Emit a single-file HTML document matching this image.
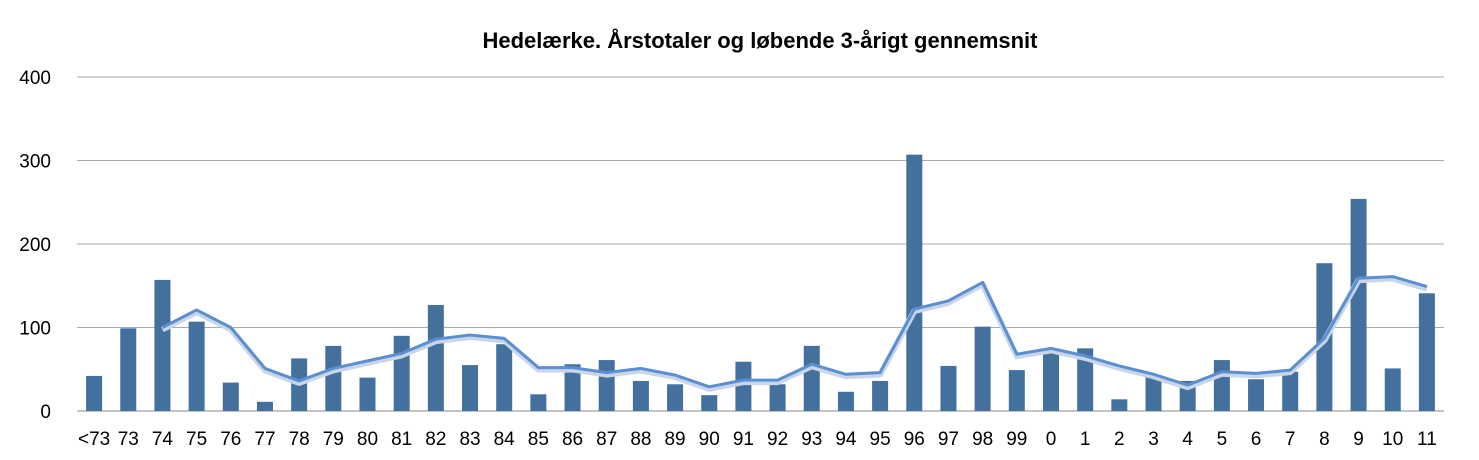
<!DOCTYPE html>
<html><head><meta charset="utf-8"><style>
html,body{margin:0;padding:0;background:#fff;}
svg text{font-family:"Liberation Sans",Arial,sans-serif;fill:#000;}
</style></head><body>
<svg id="chart" width="1479" height="455" xmlns="http://www.w3.org/2000/svg">
<text x="760" y="48" text-anchor="middle" font-size="22" font-weight="bold">Hedelærke. Årstotaler og løbende 3-årigt gennemsnit</text>
<g id="grid"></g><g id="bars"></g><g id="line"></g><g id="xlabels"></g>
</svg>
<script>
const categories=["<73","73","74","75","76","77","78","79","80","81","82","83","84","85","86","87","88","89","90","91","92","93","94","95","96","97","98","99","0","1","2","3","4","5","6","7","8","9","10","11"];
const totals=[42,99,157,107,34,11,63,78,40,90,127,55,80,20,56,61,36,32,19,59,32,78,23,36,307,54,101,49,74,75,14,42,36,61,38,47,177,254,51,141];
const avg3=[null,null,100,121,100,51,36,51,60,69,86,91,87,52,52,46,51,43,29,37,37,56,44,46,122,132,154,68,75,66,54,44,31,47,45,49,87,159,161,149];
const yTicks=[0,100,200,300,400];
const NS="http://www.w3.org/2000/svg";
const x0=77,x1=1444,y0=411,y1=77,yMax=400;
const bw=(x1-x0)/categories.length;
const xc=i=>x0+bw*(i+0.5);
const y=v=>y0-(v/yMax)*(y0-y1);
function mk(t,a,p){const e=document.createElementNS(NS,t);for(const k in a)e.setAttribute(k,a[k]);p.appendChild(e);return e;}
const grid=document.getElementById('grid');
yTicks.forEach(v=>{
  const l=mk('line',{x1:x0,x2:x1,y1:y(v),y2:y(v),stroke:v===0?'#888':'#aaa','stroke-width':1},grid);
  
  
  const t=mk('text',{x:51,y:y(v)+7,'text-anchor':'end','font-size':19},grid);
  t.textContent=v;
  
  
});
const bars=document.getElementById('bars');
totals.forEach((v,i)=>{
  const r=mk('rect',{x:xc(i)-8,y:y(v),width:16,height:y0-y(v),fill:'#44709e'},bars);
  
  
});
const pts=[];avg3.forEach((v,i)=>{if(v!==null)pts.push(xc(i)+','+y(v));});
const sh=mk('polyline',{points:pts.join(' '),fill:'none',stroke:'#c9d6ea','stroke-width':6,transform:'translate(0,2)','stroke-linejoin':'round'},document.getElementById('line'));


const pl=mk('polyline',{points:pts.join(' '),fill:'none',stroke:'#5b8fd0','stroke-width':3,'stroke-linejoin':'round'},document.getElementById('line'));


const xl=document.getElementById('xlabels');
categories.forEach((c,i)=>{
  const t=mk('text',{x:xc(i),y:445,'text-anchor':'middle','font-size':19},xl);
  t.textContent=c;
  
  
});
</script>
</body></html>
